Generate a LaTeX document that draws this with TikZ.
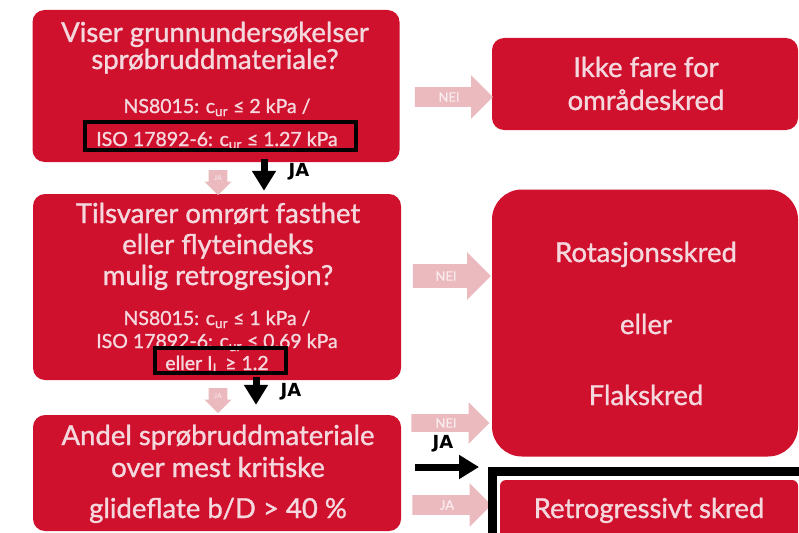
\documentclass[tikz,border=0pt]{standalone}
\usepackage{fontspec}
\setmainfont{Lato}
\newfontfamily\boxfont{Lato}[RawFeature={embolden=1.2}]
\newfontfamily\jafont{DejaVu Sans}
\usetikzlibrary{shapes.arrows,arrows.meta,positioning,calc}

\definecolor{boxred}{RGB}{207,17,45}
\definecolor{boxtext}{RGB}{245,216,222}
\definecolor{fadepink}{RGB}{234,186,191}
\definecolor{fadetext}{RGB}{250,236,238}

\tikzset{
  redbox/.style={fill=boxred,draw=none,rounded corners=12pt,inner sep=0pt},
  bigtext/.style={text=boxtext,anchor=base,inner sep=0pt,font=\boxfont\fontsize{27.5}{27.5}\selectfont},
  smalltext/.style={text=boxtext,anchor=base,inner sep=0pt,font=\boxfont\fontsize{19.5}{19.5}\selectfont},
  fadearrow/.style={single arrow,fill=fadepink,draw=none,text=fadetext,
    single arrow head extend=12pt,single arrow head indent=0pt,inner xsep=2pt,
    font=\boxfont\fontsize{13}{13}\selectfont},
  jaarrow/.style={line width=7pt,-{Triangle[width=23pt,length=20pt]}},
  jalabel/.style={inner sep=0pt,font=\jafont\bfseries\fontsize{18}{18}\selectfont},
  hlframe/.style={draw=black,line width=4pt,inner sep=0pt}
}

\begin{document}
\begin{tikzpicture}[x=1pt,y=-1pt]
  \useasboundingbox (0,0) rectangle (799,532);
  % spørsmål
  \node[redbox,minimum width=367pt,minimum height=152pt] (box1) at (216,86) {};
  \node[redbox,minimum width=368pt,minimum height=186pt] (box2) at (217,287) {};
  \node[redbox,minimum width=368pt,minimum height=116pt] (box3) at (217,473) {};
  % utfall
  \node[redbox,minimum width=306pt,minimum height=92pt] (ikke) at (645,84) {};
  \node[redbox,rounded corners=30pt,minimum width=306pt,minimum height=267pt] (rot) at (645,323) {};
  \node[redbox,rounded corners=6pt,minimum width=298pt,minimum height=60pt] (retro) at (649,510) {};

  \node[bigtext] (q1a) at (215,42) {Viser grunnundersøkelser};
  \node[bigtext] (q1b) at (215,69) {sprøbruddmateriale?};
  \node[smalltext] (q1c) at (217,113) {NS8015: c\textsubscript{ur} ≤ 2 kPa /};
  \node[smalltext] (q1d) at (217,146) {ISO 17892-6: c\textsubscript{ur} ≤ 1.27 kPa};

  \node[bigtext] (q2a) at (218,223) {Tilsvarer omrørt fasthet};
  \node[bigtext] (q2b) at (218,254) {eller flyteindeks};
  \node[bigtext] (q2c) at (218,285) {mulig retrogresjon?};
  \node[smalltext] (q2d) at (217,325) {NS8015: c\textsubscript{ur} ≤ 1 kPa /};
  \node[smalltext] (q2e) at (217,348) {ISO 17892-6: c\textsubscript{ur} ≤ 0.69 kPa};
  \node[smalltext] (q2f) at (217,370) {eller I\textsubscript{L} ≥ 1.2};

  \node[bigtext] (q3a) at (218,445) {Andel sprøbruddmateriale};
  \node[bigtext] (q3b) at (218,477) {over mest kritiske};
  \node[bigtext] (q3c) at (218,518) {glideflate b/D > 40 \%};

  \node[bigtext] (r1a) at (646,77) {Ikke fare for};
  \node[bigtext] (r1b) at (646,110) {områdeskred};
  \node[bigtext] (r2a) at (646,262) {Rotasjonsskred};
  \node[bigtext] (r2b) at (646,334) {eller};
  \node[bigtext] (r2c) at (646,405) {Flakskred};
  \node[bigtext] (r3a) at (649,518) {Retrogressivt skred};

  % bleke piler
  \node[fadearrow,minimum height=78pt,inner ysep=5pt] (nei1) at (449,97) {NEI};
  \node[fadearrow,minimum height=78pt,inner ysep=7pt] (nei2) at (446,276) {NEI};
  \node[fadearrow,minimum height=78pt,inner ysep=4pt] (nei3) at (446,423) {NEI};
  \node[fadearrow,minimum height=79pt,inner ysep=5pt] (ja4) at (447,505) {JA};
  \node[fadearrow,shape border rotate=270,minimum height=25pt,minimum width=27pt,inner sep=5pt,
    single arrow head extend=4pt,font=\fontsize{7}{7}\selectfont] (down1) at (218,178) {JA};
  \node[fadearrow,shape border rotate=270,minimum height=25pt,minimum width=27pt,inner sep=5pt,
    single arrow head extend=4pt,font=\fontsize{7}{7}\selectfont] (down2) at (218,396) {JA};

  % markering
  \node[hlframe,minimum width=271pt,minimum height=28pt] (frame1) at (220.5,136) {};
  \node[hlframe,minimum width=131pt,minimum height=25pt] (frame2) at (220.5,360.5) {};
  \node[draw=black,line width=9pt,inner sep=0pt,minimum width=320pt,minimum height=70pt] (frame3) at (652,506) {};

  % JA-piler
  \coordinate (ja1s) at (264,159);
  \coordinate (ja2s) at (256,377);
  \coordinate (ja3s) at (415,467);
  \coordinate (ja3e) at (479,467);
  \draw[jaarrow,shorten >=3pt] (ja1s) -- (ja1s |- box2.north);
  \draw[jaarrow,shorten >=10pt] (ja2s) -- (ja2s |- box3.north);
  \draw[jaarrow] (ja3s) -- (ja3e);
  \node[jalabel] (ja1) at (299,172) {JA};
  \node[jalabel] (ja2) at (291,392) {JA};
  \node[jalabel] (ja3) at (443,444) {JA};
\end{tikzpicture}
\end{document}
